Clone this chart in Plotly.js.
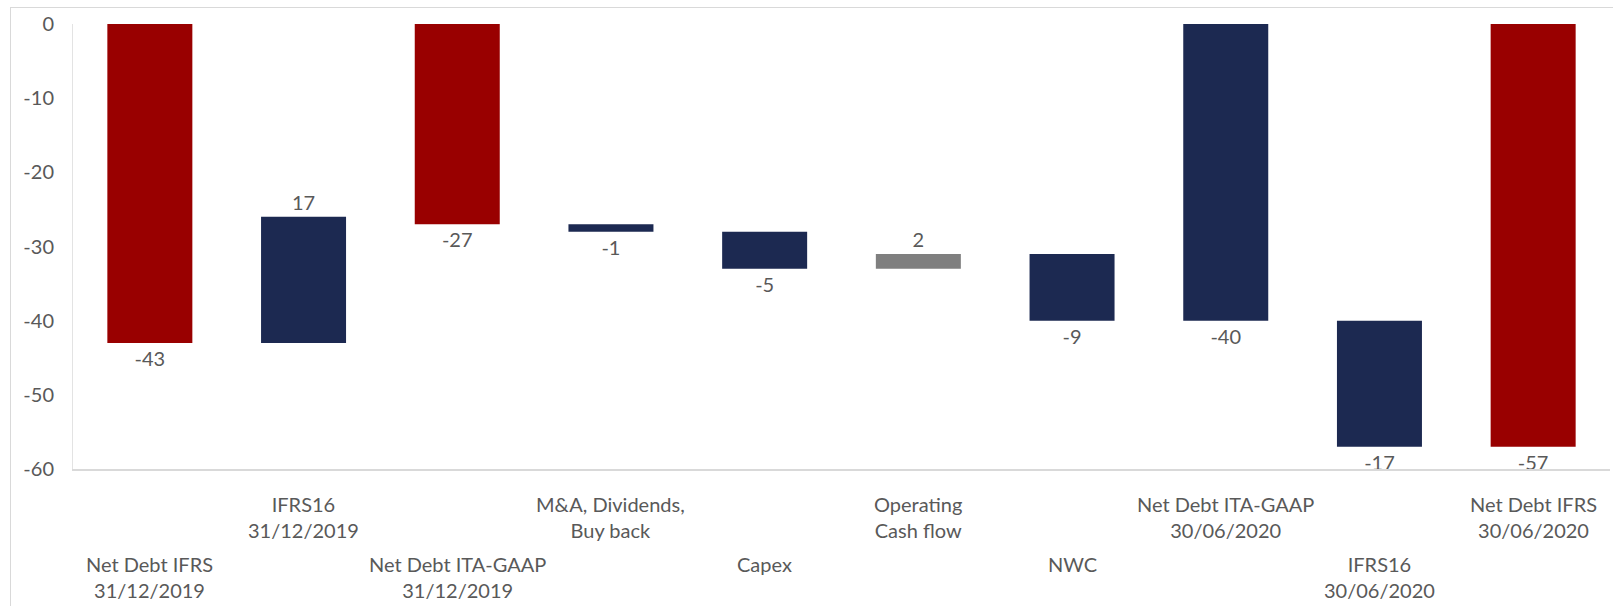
<!DOCTYPE html>
<html>
<head>
<meta charset="utf-8">
<script src="https://cdn.plot.ly/plotly-3.0.1.min.js"></script>
<style>
  html, body { margin: 0; padding: 0; background: #ffffff; }
  #wrap { position: relative; width: 1613px; height: 606px; overflow: hidden; }
  #frame { position: absolute; left: 10px; top: 7px; width: 1700px; height: 700px; border: 1px solid #d9d9d9; box-sizing: border-box; pointer-events: none; }
  #chart { position: absolute; left: 0; top: 0; width: 1613px; height: 606px; }
</style>
</head>
<body>
<div id="wrap">
  <div id="chart"></div>
  <div id="frame"></div>
</div>
<script>
// ---- data ----
const categories = [
  "Net Debt IFRS<br>31/12/2019",
  "IFRS16<br>31/12/2019",
  "Net Debt ITA-GAAP<br>31/12/2019",
  "M&A, Dividends,<br>Buy back",
  "Capex",
  "Operating<br>Cash flow",
  "NWC",
  "Net Debt ITA-GAAP<br>30/06/2020",
  "IFRS16<br>30/06/2020",
  "Net Debt IFRS<br>30/06/2020"
];
const bases  = [0, -43, 0, -27, -28, -33, -31, 0, -40, 0];
const values = [-43, 17, -27, -1, -5, 2, -9, -40, -17, -57];
const barColors = ["#990000", "#1c2951", "#990000", "#1c2951", "#1c2951",
                   "#7f7f7f", "#1c2951", "#1c2951", "#1c2951", "#990000"];
const yTickVals = [0, -10, -20, -30, -40, -50, -60];
const yTickText = ["0", "-10", "-20", "-30", "-40", "-50", "-60"];

const FONT = "Lato, 'Open Sans', sans-serif";
const TXT = "#595959";

const xIdx = categories.map((_, i) => i);

const trace = {
  type: "bar",
  x: xIdx,
  y: values,
  base: bases,
  marker: { color: barColors, line: { width: 0 } },
  text: values.map(v => String(v)),
  textposition: "outside",
  textfont: { family: FONT, size: 20, color: TXT },
  cliponaxis: false,
  hoverinfo: "none"
};

const annotations = categories.map((c, i) => ({
  x: i, xref: "x",
  y: 0, yref: "paper",
  xanchor: "center", yanchor: "top",
  yshift: (i % 2 === 0) ? -81 : -21,
  text: c,
  showarrow: false,
  align: "center",
  font: { family: FONT, size: 20, color: TXT }
}));

const layout = {
  width: 1613, height: 606,
  margin: { l: 73, r: 3, t: 24, b: 137, pad: 0 },
  paper_bgcolor: "rgba(0,0,0,0)",
  plot_bgcolor: "rgba(0,0,0,0)",
  showlegend: false,
  bargap: 0.447,
  font: { family: FONT, size: 20, color: TXT },
  xaxis: {
    type: "linear",
    range: [-0.5, categories.length - 0.5],
    showticklabels: false,
    showgrid: false, zeroline: false,
    showline: true, linecolor: "#d9d9d9", linewidth: 2,
    ticks: "", fixedrange: true
  },
  yaxis: {
    range: [-60, 0],
    tickmode: "array", tickvals: yTickVals, ticktext: yTickText,
    showgrid: false, zeroline: false,
    showline: true, linecolor: "#e3e3e3", linewidth: 1,
    ticks: "", ticklabelstandoff: 14,
    tickfont: { family: FONT, size: 20, color: TXT },
    fixedrange: true
  },
  annotations: annotations
};

Plotly.newPlot("chart", [trace], layout, { displayModeBar: false, staticPlot: true });
</script>
</body>
</html>
